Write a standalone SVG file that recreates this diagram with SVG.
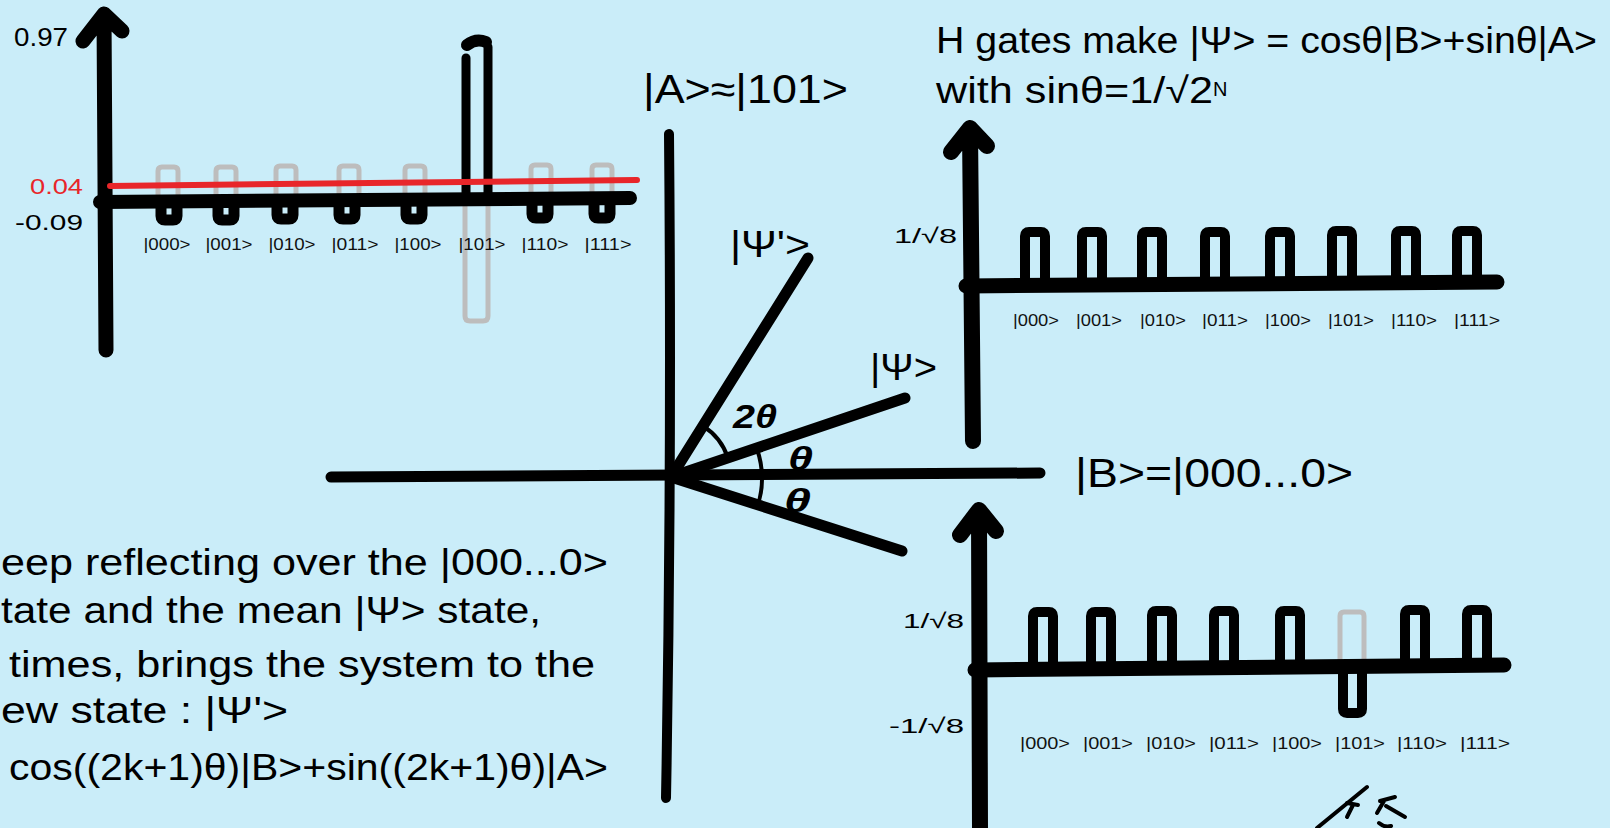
<svg xmlns="http://www.w3.org/2000/svg" xmlns:xlink="http://www.w3.org/1999/xlink" width="1610" height="828" viewBox="0 0 1610 828">
  <style>
    .bg { fill: #caedf9; }
    .ax { fill: none; stroke: #000; stroke-linecap: round; stroke-linejoin: round; }
    .gbar { fill: none; stroke: #bdbdbd; stroke-width: 5; stroke-linejoin: round; stroke-linecap: round; }
    .bbar { fill: none; stroke: #000; stroke-width: 10; stroke-linejoin: round; stroke-linecap: butt; }
    .bbar11 { fill: none; stroke: #000; stroke-width: 11; stroke-linejoin: round; stroke-linecap: butt; }
    .t { font-family: "Liberation Sans", "Noto Sans", sans-serif; fill: #000; }
    .lbl { font-size: 16px; text-anchor: middle; fill: #111; }
    .big { font-size: 36px; }
    .ang { font-size: 33px; font-weight: bold; font-style: italic; }
    .sig { fill: none; stroke: #000; stroke-width: 4; stroke-linecap: round; stroke-linejoin: round; }
  </style>
  <defs>
    <path id="gbarTL" class="gbar" d="M-10,0 V-30 Q-10,-34 -6,-34 H6 Q10,-34 10,-30 V0"/>
    <path id="bbarTL" class="bbar11" d="M-8,0 V12 Q-8,16 -4,16 H4 Q8,16 8,12 V0"/>
    <path id="barTR" class="bbar" d="M-10,0 V-48 Q-10,-52 -6,-52 H6 Q10,-52 10,-48 V0"/>
    <path id="barBR" class="bbar" d="M-10,0 V-52 Q-10,-56 -6,-56 H6 Q10,-56 10,-52 V0"/>
  </defs>

  <rect class="bg" x="0" y="0" width="1610" height="828"/>

  <!-- Top-left chart: amplitudes after reflection -->
  <g id="chart-top-left">
    <use xlink:href="#gbarTL" x="168" y="201"/>
    <use xlink:href="#gbarTL" x="226" y="201"/>
    <use xlink:href="#gbarTL" x="286" y="200"/>
    <use xlink:href="#gbarTL" x="349" y="200"/>
    <use xlink:href="#gbarTL" x="415" y="200"/>
    <use xlink:href="#gbarTL" x="541" y="199"/>
    <use xlink:href="#gbarTL" x="602" y="199"/>
    <path class="gbar" d="M465,190 V316 Q465,321 470,321 H483 Q488,321 488,316 V190"/>
    <path class="ax" stroke-width="14" d="M100,202 L630,198"/>
    <path class="ax" stroke-width="15" d="M106,350 L104,14 M83,41 L104,14 L122,31"/>
    <use xlink:href="#bbarTL" x="169" y="204"/>
    <use xlink:href="#bbarTL" x="226" y="204"/>
    <use xlink:href="#bbarTL" x="285" y="203"/>
    <use xlink:href="#bbarTL" x="347" y="203"/>
    <use xlink:href="#bbarTL" x="414" y="203"/>
    <use xlink:href="#bbarTL" x="540" y="202"/>
    <use xlink:href="#bbarTL" x="602" y="202"/>
    <path class="ax" stroke-width="9" d="M466,200 L466,58"/>
    <path class="ax" stroke-width="9" d="M488,196 L488,47"/>
    <path class="ax" stroke-width="12" d="M467,45 Q476,38 486,42"/>
    <path fill="none" stroke="#e8262a" stroke-width="6" stroke-linecap="round" d="M110,186 L637,180"/>
    <text class="t" x="14" y="46" font-size="25" textLength="54" lengthAdjust="spacingAndGlyphs">0.97</text>
    <text class="t" x="30" y="194" font-size="22" style="fill:#e8262a" textLength="53" lengthAdjust="spacingAndGlyphs">0.04</text>
    <text class="t" x="15" y="230" font-size="22" textLength="68" lengthAdjust="spacingAndGlyphs">-0.09</text>
    <text class="t lbl" style="font-size:17px" x="167" y="250" textLength="47" lengthAdjust="spacingAndGlyphs">|000&gt;</text>
    <text class="t lbl" style="font-size:17px" x="229" y="250" textLength="47" lengthAdjust="spacingAndGlyphs">|001&gt;</text>
    <text class="t lbl" style="font-size:17px" x="292" y="250" textLength="47" lengthAdjust="spacingAndGlyphs">|010&gt;</text>
    <text class="t lbl" style="font-size:17px" x="355" y="250" textLength="47" lengthAdjust="spacingAndGlyphs">|011&gt;</text>
    <text class="t lbl" style="font-size:17px" x="418" y="250" textLength="47" lengthAdjust="spacingAndGlyphs">|100&gt;</text>
    <text class="t lbl" style="font-size:17px" x="482" y="250" textLength="47" lengthAdjust="spacingAndGlyphs">|101&gt;</text>
    <text class="t lbl" style="font-size:17px" x="545" y="250" textLength="47" lengthAdjust="spacingAndGlyphs">|110&gt;</text>
    <text class="t lbl" style="font-size:17px" x="608" y="250" textLength="47" lengthAdjust="spacingAndGlyphs">|111&gt;</text>
  </g>

  <!-- Top-right chart: uniform superposition -->
  <g id="chart-top-right">
    <text class="t big" x="936" y="53" textLength="661" lengthAdjust="spacingAndGlyphs">H gates make |Ψ&gt; = cosθ|B&gt;+sinθ|A&gt;</text>
    <text class="t big" x="936" y="103"><tspan textLength="277" lengthAdjust="spacingAndGlyphs">with sinθ=1/√2</tspan><tspan font-size="20" dy="-7">N</tspan></text>
    <use xlink:href="#barTR" x="1035" y="284"/>
    <use xlink:href="#barTR" x="1092" y="284"/>
    <use xlink:href="#barTR" x="1152" y="284"/>
    <use xlink:href="#barTR" x="1215" y="284"/>
    <use xlink:href="#barTR" x="1280" y="284"/>
    <use xlink:href="#barTR" x="1342" y="283"/>
    <use xlink:href="#barTR" x="1406" y="283"/>
    <use xlink:href="#barTR" x="1467" y="283"/>
    <path class="ax" stroke-width="15" d="M966,286 L1497,282"/>
    <path class="ax" stroke-width="16" d="M973,441 L970,130 M951,152 L970,128 L987,146"/>
    <text class="t" x="894" y="243" font-size="21" textLength="63" lengthAdjust="spacingAndGlyphs">1/√8</text>
    <text class="t lbl" x="1036" y="326" textLength="46" lengthAdjust="spacingAndGlyphs">|000&gt;</text>
    <text class="t lbl" x="1099" y="326" textLength="46" lengthAdjust="spacingAndGlyphs">|001&gt;</text>
    <text class="t lbl" x="1163" y="326" textLength="46" lengthAdjust="spacingAndGlyphs">|010&gt;</text>
    <text class="t lbl" x="1225" y="326" textLength="46" lengthAdjust="spacingAndGlyphs">|011&gt;</text>
    <text class="t lbl" x="1288" y="326" textLength="46" lengthAdjust="spacingAndGlyphs">|100&gt;</text>
    <text class="t lbl" x="1351" y="326" textLength="46" lengthAdjust="spacingAndGlyphs">|101&gt;</text>
    <text class="t lbl" x="1414" y="326" textLength="46" lengthAdjust="spacingAndGlyphs">|110&gt;</text>
    <text class="t lbl" x="1477" y="326" textLength="46" lengthAdjust="spacingAndGlyphs">|111&gt;</text>
  </g>

  <!-- Bottom-right chart: oracle-flipped amplitude -->
  <g id="chart-bottom-right">
    <use xlink:href="#barBR" x="1043" y="668"/>
    <use xlink:href="#barBR" x="1101" y="668"/>
    <use xlink:href="#barBR" x="1162" y="667"/>
    <use xlink:href="#barBR" x="1224" y="667"/>
    <use xlink:href="#barBR" x="1290" y="667"/>
    <path class="gbar" d="M1340,660 V616 Q1340,612 1344,612 H1360 Q1364,612 1364,616 V660"/>
    <use xlink:href="#barBR" x="1415" y="666"/>
    <use xlink:href="#barBR" x="1477" y="666"/>
    <path class="bbar" d="M1343,668 V709 Q1343,713 1347,713 H1358 Q1362,713 1362,709 V668"/>
    <path class="ax" stroke-width="15" d="M975,670 L1504,665"/>
    <path class="ax" stroke-width="16" d="M980,830 L979,512 M960,535 L979,510 L996,531"/>
    <text class="t" x="903" y="628" font-size="21" textLength="61" lengthAdjust="spacingAndGlyphs">1/√8</text>
    <text class="t" x="889" y="733" font-size="21" textLength="75" lengthAdjust="spacingAndGlyphs">-1/√8</text>
    <text class="t lbl" x="1045" y="749" textLength="50" lengthAdjust="spacingAndGlyphs">|000&gt;</text>
    <text class="t lbl" x="1108" y="749" textLength="50" lengthAdjust="spacingAndGlyphs">|001&gt;</text>
    <text class="t lbl" x="1171" y="749" textLength="50" lengthAdjust="spacingAndGlyphs">|010&gt;</text>
    <text class="t lbl" x="1234" y="749" textLength="50" lengthAdjust="spacingAndGlyphs">|011&gt;</text>
    <text class="t lbl" x="1297" y="749" textLength="50" lengthAdjust="spacingAndGlyphs">|100&gt;</text>
    <text class="t lbl" x="1360" y="749" textLength="50" lengthAdjust="spacingAndGlyphs">|101&gt;</text>
    <text class="t lbl" x="1422" y="749" textLength="50" lengthAdjust="spacingAndGlyphs">|110&gt;</text>
    <text class="t lbl" x="1485" y="749" textLength="50" lengthAdjust="spacingAndGlyphs">|111&gt;</text>
  </g>

  <!-- Central geometric picture -->
  <g id="vector-diagram">
    <g id="connectors">
      <path class="ax" stroke-width="10" d="M669,134 Q672,470 666,798"/>
      <path class="ax" stroke-width="11" d="M331,477 L1040,473"/>
      <path class="ax" stroke-width="11" d="M671,477 L808,258"/>
      <path class="ax" stroke-width="11" d="M671,477 L905,398"/>
      <path class="ax" stroke-width="11" d="M671,477 L902,551"/>
      <path class="ax" stroke-width="4" d="M703,426 A60,60 0 0 1 728,458"/>
      <path class="ax" stroke-width="4" d="M757,449 A91,91 0 0 1 758,505"/>
    </g>
    <text class="t" x="643" y="103" font-size="40" textLength="205" lengthAdjust="spacingAndGlyphs">|A&gt;≈|101&gt;</text>
    <text class="t big" x="730" y="257" textLength="80" lengthAdjust="spacingAndGlyphs">|Ψ'&gt;</text>
    <text class="t big" x="870" y="380" textLength="67" lengthAdjust="spacingAndGlyphs">|Ψ&gt;</text>
    <text class="t" x="1075" y="487" font-size="40" textLength="278" lengthAdjust="spacingAndGlyphs">|B&gt;=|000...0&gt;</text>
    <text class="t ang" x="733" y="428" textLength="44" lengthAdjust="spacingAndGlyphs">2θ</text>
    <text class="t ang" x="788" y="470" textLength="25" lengthAdjust="spacingAndGlyphs">θ</text>
    <text class="t ang" x="784" y="512" textLength="27" lengthAdjust="spacingAndGlyphs">θ</text>
  </g>

  <!-- Explanation text -->
  <g id="explanation">
    <text class="t big" x="1" y="575" textLength="607" lengthAdjust="spacingAndGlyphs">eep reflecting over the |000...0&gt;</text>
    <text class="t big" x="1" y="623" textLength="540" lengthAdjust="spacingAndGlyphs">tate and the mean |Ψ&gt; state,</text>
    <text class="t big" x="9" y="677" textLength="586" lengthAdjust="spacingAndGlyphs">times, brings the system to the</text>
    <text class="t big" x="1" y="723" textLength="287" lengthAdjust="spacingAndGlyphs">ew state : |Ψ'&gt;</text>
    <text class="t big" x="9" y="780" textLength="599" lengthAdjust="spacingAndGlyphs">cos((2k+1)θ)|B&gt;+sin((2k+1)θ)|A&gt;</text>
  </g>

  <!-- Signature mark -->
  <g id="signature">
    <path class="sig" d="M1367,787 L1317,828"/>
    <path class="sig" d="M1347,803 L1358,805 M1353,805 L1347,817"/>
    <path class="sig" d="M1380,801 L1395,797 M1384,801 L1377,813 M1386,806 L1405,817"/>
    <path class="sig" d="M1379,823 Q1385,828 1391,826"/>
  </g>
</svg>
